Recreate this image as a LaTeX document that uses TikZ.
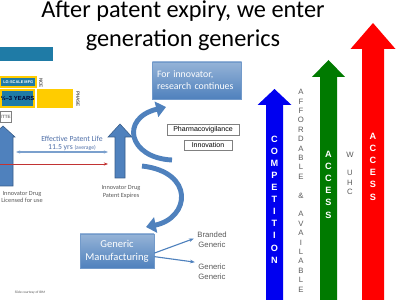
\documentclass[tikz,border=0pt]{standalone}
\usepackage{fontspec}
\setmainfont{Carlito}
\newfontfamily\arialfont{Liberation Sans}
\usetikzlibrary{arrows.meta}

\definecolor{steel}{HTML}{4F81BD}
\definecolor{steeldark}{HTML}{385D8A}
\definecolor{steellight}{HTML}{95B3D7}
\definecolor{teal}{HTML}{1F7BA6}
\definecolor{gold}{HTML}{FFCC00}
\definecolor{txtgray}{HTML}{595959}
\definecolor{eplblue}{HTML}{7BA0CD}
\definecolor{epltext}{HTML}{4F6FA8}
\definecolor{accred}{HTML}{FF0000}
\definecolor{accgreen}{HTML}{007A00}
\definecolor{compblue}{HTML}{0000F0}

% block arrow pointing up: centre x, shaft half, head half, tip y, head base y, bottom y, style
\newcommand{\blockup}[7]{%
  \fill[#7] (#1-#2,#6) -- (#1-#2,#5) -- (#1-#3,#5) -- (#1,#4)
    -- (#1+#3,#5) -- (#1+#2,#5) -- (#1+#2,#6) -- cycle;}

\begin{document}
\begin{tikzpicture}[x=0.025cm, y=-0.025cm,
  gradbox/.style={rectangle, top color=steellight, bottom color=steel, draw=steel!80!white,
    text=white, font=\fontsize{7}{8.5}\selectfont},
  plainbox/.style={rectangle, draw=gray, fill=white, font=\arialfont\fontsize{5}{6}\selectfont,
    inner sep=1.6pt},
  smalltxt/.style={text=txtgray, font=\fontsize{4.5}{5.6}\selectfont, align=center},
  gentxt/.style={text=txtgray, font=\arialfont\fontsize{5.5}{6.8}\selectfont, align=center},
  letter/.style={font=\arialfont\bfseries\fontsize{6.5}{7}\selectfont, text=white, inner sep=0pt},
  grayletter/.style={font=\arialfont\fontsize{5.5}{6}\selectfont, text=txtgray, inner sep=0pt},
  curl/.style={draw=steel, line width=3.5pt, -{Triangle[length=7pt, width=11pt]}},
  phasetxt/.style={font=\arialfont\bfseries\fontsize{3.3}{4}\selectfont, inner sep=0.5pt}]
\useasboundingbox (0,0) rectangle (400,300);

% title
\node[font=\fontsize{17.3}{20.5}\selectfont, align=center] (title) at (183,26)
  {After patent expiry, we enter\\generation generics};

% development phases (cut off at the left)
\fill[teal] (0,47) rectangle (53,61);
\draw[gold, fill=teal, line width=0.8pt] (0.5,77) rectangle (36,87)
  node[midway, phasetxt, text=white, font=\arialfont\bfseries\fontsize{2.8}{3.5}\selectfont] (mfg) {LG-SCALE MFG};
\node[phasetxt, text=txtgray, rotate=-90] (nce) at (41,83) {NCE};
\draw[gold, fill=teal, line width=1.6pt] (1,90) rectangle (34,107)
  node[midway, phasetxt, text=black!80!blue, font=\arialfont\bfseries\fontsize{4.2}{5}\selectfont] (yrs) {½–3 YEARS};
\fill[gold] (37,89) rectangle (73,108);
\node[phasetxt, text=txtgray, rotate=-90] (phase) at (78,99) {PHASE};
\draw[gray, fill=white] (0.5,111) rectangle (11,122)
  node[midway, phasetxt] (filed) {ITTE};

% blue block arrows
\blockup{3}{10}{12}{126}{137}{186}{steel, draw=steeldark}
\blockup{120}{5}{12}{124}{137}{178}{steel, draw=steeldark}
\node[smalltxt] (licensed) at (22,197) {Innovator Drug\\Licensed for use};
\node[smalltxt] (expires) at (121,192) {Innovator Drug\\Patent Expires};
\coordinate (eplL) at (16,152);
\coordinate (eplR) at (108,152);
\coordinate (redL) at (-5,164);
\coordinate (redR) at (108,164);
\draw[eplblue, line width=0.8pt, {Stealth[length=3pt]}-{Stealth[length=3pt]}] (eplL) -- (eplR);
\draw[red!70!black!80, line width=0.6pt, -{Stealth[length=3pt]}] (redL) -- (redR);
\node[text=epltext, font=\fontsize{5.5}{6.5}\selectfont] (epl) at (72,139) {Effective Patent Life};
\node[text=epltext, font=\fontsize{5.5}{6.5}\selectfont] (yrsavg) at (72,148)
  {11.5 yrs {\fontsize{4}{5}\selectfont(average)}};

% innovator side
\node[gradbox, minimum width=88*0.025cm, minimum height=37*0.025cm, align=left,
  text width=80*0.025cm] (research) at (197,80.5) {For innovator,\\research continues};
\node[plainbox, minimum width=72*0.025cm] (pharma) at (203,129.5) {Pharmacovigilance};
\node[plainbox, minimum width=48*0.025cm] (innov) at (208,145) {Innovation};

% curved arrows
\draw[curl] (172,160) .. controls (128,158) and (120,118) .. (166,107);
\draw[curl] (142,166) .. controls (195,172) and (190,218) .. (146,227);

% generic side
\node[gradbox, minimum width=74*0.025cm, minimum height=34*0.025cm, align=center,
  font=\fontsize{7.5}{9}\selectfont] (genman) at (117,251) {Generic\\Manufacturing};
\node[gentxt] (branded) at (212,240) {Branded\\Generic};
\node[gentxt] (generic) at (212,272) {Generic\\Generic};
\draw[steel, line width=0.8pt, -{Stealth[length=3.5pt]}] ([yshift=-1.5pt]genman.east) -- ([xshift=1pt, yshift=1pt]branded.west);
\draw[steel, line width=0.8pt, -{Stealth[length=3.5pt]}] ([yshift=-4pt]genman.east) -- ([xshift=1pt, yshift=7pt]generic.west);
\node[text=txtgray, font=\fontsize{2.5}{3}\selectfont] (courtesy) at (30,293) {Slide courtesy of IBM};

% access arrows
\blockup{274.5}{8.5}{17}{89}{105}{305}{compblue}
\blockup{328.5}{8.5}{16.5}{60}{77}{305}{accgreen}
\blockup{373}{11}{22.5}{23}{49}{305}{accred}
\foreach \l [count=\i] in {C,O,M,P,E,T,I,T,I,O,N}
  \node[letter] (comp\i) at (274.5,{139+(\i-1)*12.1}) {\l};
\foreach \l [count=\i] in {A,F,F,O,R,D,A,B,L,E,{},\&,{},A,V,A,I,L,A,B,L,E}
  \node[grayletter] (afford\i) at (301,{92+(\i-1)*9.4}) {\l};
\foreach \l [count=\i] in {A,C,C,E,S,S}
  \node[letter] (gacc\i) at (328.5,{154+(\i-1)*12.2}) {\l};
\foreach \l [count=\i] in {A,C,C,E,S,S}
  \node[letter] (racc\i) at (373,{136+(\i-1)*12.2}) {\l};
\node[grayletter] (w) at (350,155) {W};
\foreach \l [count=\i] in {U,H,C}
  \node[grayletter] (uhc\i) at (350,{173+(\i-1)*9.5}) {\l};
\end{tikzpicture}
\end{document}
